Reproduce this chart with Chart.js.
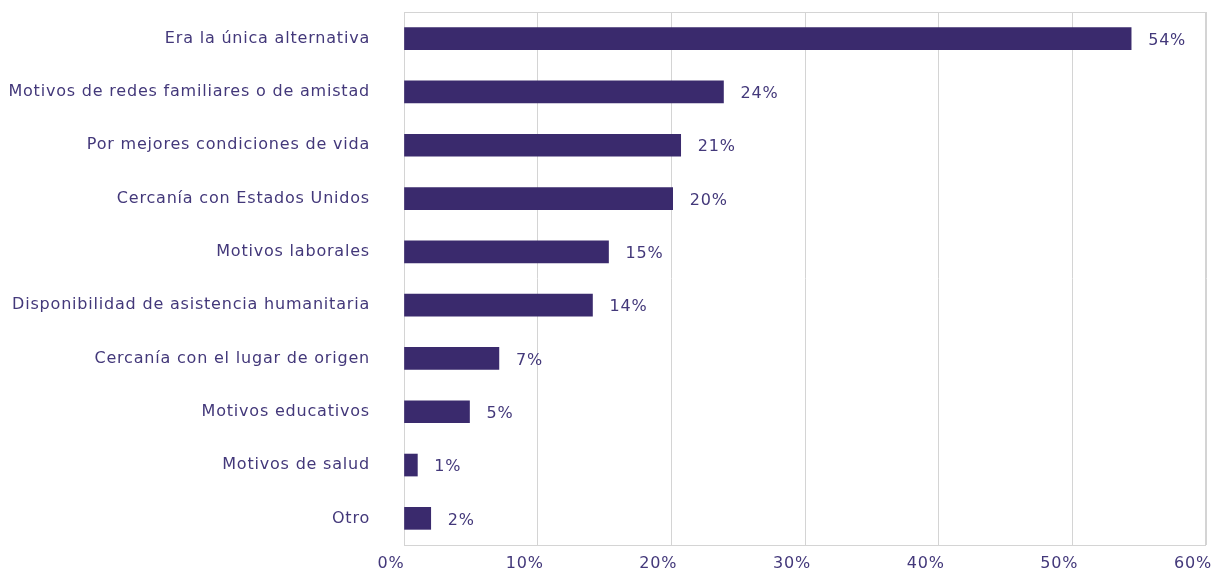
<!DOCTYPE html>
<html>
<head>
<meta charset="utf-8">
<script src="https://cdn.jsdelivr.net/npm/chart.js@4"></script>
<style>
  html, body { margin: 0; padding: 0; background: #fff; overflow: hidden; }
  canvas { display: block; }
</style>
</head>
<body>
<canvas id="chart" width="1221" height="572"></canvas>
<script>
// data
const categories = [
    'Era la única alternativa',
    'Motivos de redes familiares o de amistad',
    'Por mejores condiciones de vida',
    'Cercanía con Estados Unidos',
    'Motivos laborales',
    'Disponibilidad de asistencia humanitaria',
    'Cercanía con el lugar de origen',
    'Motivos educativos',
    'Motivos de salud',
    'Otro'
];
const values = [54.4, 23.9, 20.7, 20.1, 15.3, 14.1, 7.1, 4.9, 1.0, 2.0];
const valueLabels = ['54%', '24%', '21%', '20%', '15%', '14%', '7%', '5%', '1%', '2%'];
const xTicks = [0, 10, 20, 30, 40, 50, 60];

const barColor = '#3a2a6d';
const textColor = '#43387a';
const gridColor = '#d4d4d4';
const fontFamily = "'DejaVu Sans', sans-serif";
const spacing = '0.8px';

// wider text, closer to the original typeface
const spacingPlugin = {
    id: 'spacing',
    beforeInit(chart) { chart.ctx.letterSpacing = spacing; },
    beforeDraw(chart) { chart.ctx.letterSpacing = spacing; }
};

// frame around the plot area
const framePlugin = {
    id: 'frame',
    beforeDatasetsDraw(chart) {
        const { ctx, chartArea: a } = chart;
        ctx.save();
        ctx.strokeStyle = gridColor;
        ctx.lineWidth = 1;
        ctx.strokeRect(Math.round(a.left) + 0.5, Math.round(a.top) + 0.5,
            Math.round(a.right - a.left) - 1, Math.round(a.bottom - a.top));
        ctx.restore();
    }
};

// percentage labels at the end of each bar
const valueLabelPlugin = {
    id: 'valueLabels',
    afterDatasetsDraw(chart) {
        const { ctx } = chart;
        const meta = chart.getDatasetMeta(0);
        ctx.save();
        ctx.fillStyle = textColor;
        ctx.font = '16px ' + fontFamily;
        ctx.textAlign = 'left';
        ctx.textBaseline = 'middle';
        meta.data.forEach((bar, i) => {
            ctx.fillText(valueLabels[i], bar.x + 17, bar.y + 2);
        });
        ctx.restore();
    }
};

function noPadding(axis) {
    axis.paddingLeft = 0;
    axis.paddingRight = 0;
    axis.paddingTop = 0;
    axis.paddingBottom = 0;
}

new Chart(document.getElementById('chart'), {
    type: 'bar',
    data: {
        labels: categories,
        datasets: [{
            data: values,
            backgroundColor: barColor,
            barThickness: 22
        }]
    },
    options: {
        indexAxis: 'y',
        responsive: false,
        animation: false,
        layout: { padding: { top: 12, right: 15, left: 0, bottom: 0 } },
        plugins: {
            legend: { display: false },
            tooltip: { enabled: false }
        },
        scales: {
            x: {
                min: 0,
                max: 60,
                afterBuildTicks: axis => { axis.ticks = xTicks.map(v => ({ value: v })); },
                afterFit: axis => { axis.height = 27; noPadding(axis); },
                grid: { color: gridColor, drawTicks: false },
                border: { display: false },
                ticks: {
                    color: textColor,
                    font: { family: fontFamily, size: 16 },
                    padding: 9,
                    maxRotation: 0,
                    labelOffset: -13,
                    callback: v => v + '%'
                }
            },
            y: {
                afterFit: axis => { axis.width = 404; noPadding(axis); },
                grid: { display: false, drawTicks: false },
                border: { display: false },
                ticks: {
                    color: textColor,
                    font: { family: fontFamily, size: 16 },
                    padding: 34
                }
            }
        }
    },
    plugins: [spacingPlugin, framePlugin, valueLabelPlugin]
});
</script>
</body>
</html>
